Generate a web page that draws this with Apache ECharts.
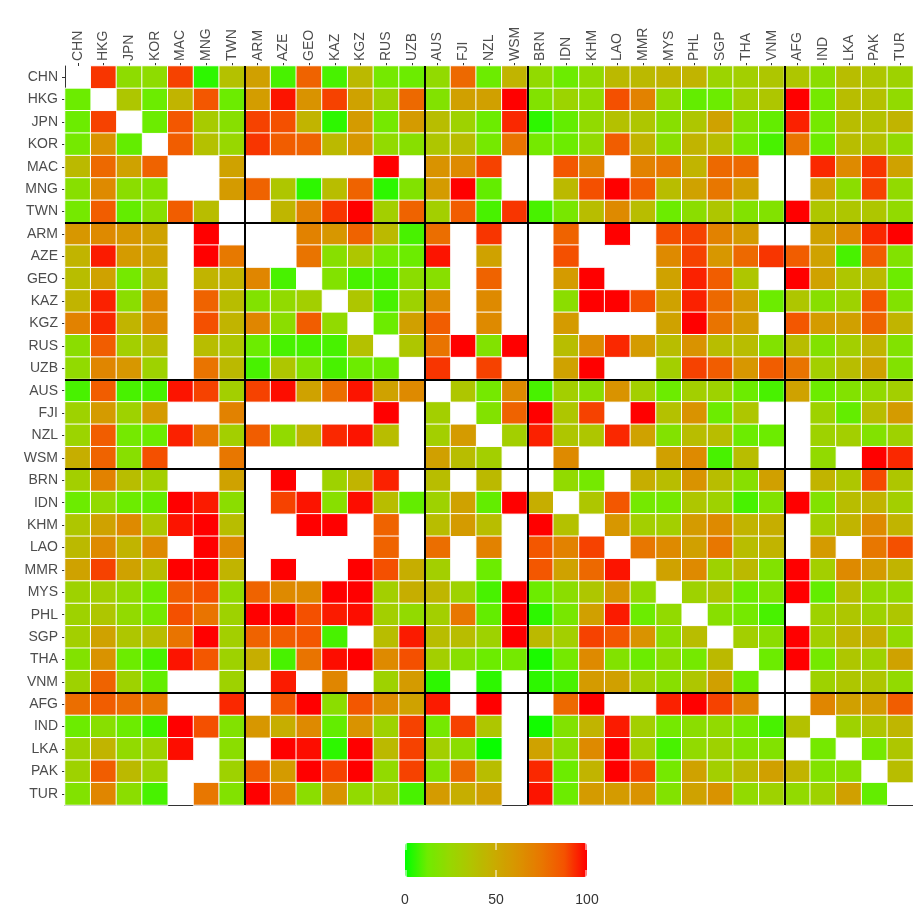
<!DOCTYPE html>
<html>
<head>
<meta charset="utf-8">
<script src="https://cdn.jsdelivr.net/npm/echarts@6/dist/echarts.min.js"></script>
<style>
html, body { margin: 0; padding: 0; background: #fff; }
#chart { width: 913px; height: 911px; }
</style>
</head>
<body>
<div id="chart"></div>
<script>
// country groups, black lines are drawn between them
const groups = [
    ['CHN', 'HKG', 'JPN', 'KOR', 'MAC', 'MNG', 'TWN'],
    ['ARM', 'AZE', 'GEO', 'KAZ', 'KGZ', 'RUS', 'UZB'],
    ['AUS', 'FJI', 'NZL', 'WSM'],
    ['BRN', 'IDN', 'KHM', 'LAO', 'MMR', 'MYS', 'PHL', 'SGP', 'THA', 'VNM'],
    ['AFG', 'IND', 'LKA', 'PAK', 'TUR']
];
const countries = groups.flat();
const legendTicks = [0, 50, 100];
const palette = ['#00FF00', '#70EB00', '#98D700', '#B3C200', '#CAAA00', '#DA9200', '#E87700', '#F45300', '#FF0000'];

const _ = null;
// rows = reporter (y, top to bottom), columns = partner (x, left to right)
const matrix = [
    [_, 92, 22, 22, 90, 5, 38, 55, 8, 82, 8, 42, 14, 12, 23, 80, 12, 45, 23, 12, 23, 42, 42, 45, 45, 27, 30, 35, 35, 21, 40, 35, 28],
    [12, _, 35, 12, 45, 86, 12, 57, 97, 62, 90, 54, 28, 80, 18, 55, 55, 100, 18, 27, 23, 88, 70, 23, 11, 12, 30, 35, 100, 14, 40, 38, 23],
    [12, 90, _, 12, 86, 32, 20, 90, 88, 45, 5, 58, 14, 58, 40, 28, 12, 94, 5, 11, 23, 38, 35, 20, 35, 54, 18, 11, 95, 14, 40, 38, 45],
    [14, 62, 11, _, 84, 38, 25, 92, 84, 82, 42, 60, 23, 20, 35, 40, 14, 76, 14, 12, 23, 84, 45, 20, 45, 40, 14, 8, 76, 12, 40, 38, 23],
    [42, 80, 54, 82, _, _, 54, _, _, _, _, _, 100, _, 62, 66, 90, _, _, 86, 70, _, 70, 75, 45, 80, 80, _, _, 94, 66, 92, 54],
    [20, 66, 21, 18, _, _, 58, 82, 35, 5, 40, 82, 5, 18, 58, 100, 11, _, _, 42, 88, 100, 84, 40, 54, 75, 55, _, _, 54, 21, 90, 23],
    [14, 84, 11, 20, 84, 40, _, _, 44, 70, 92, 100, 30, 82, 30, 84, 8, 92, 8, 15, 40, 66, 40, 12, 21, 35, 18, 18, 100, 35, 35, 35, 23],
    [60, 66, 60, 54, _, 100, _, _, _, 70, 60, 82, 42, 8, 78, _, 92, _, _, 82, _, 100, _, 88, 90, 70, 58, _, _, 54, 66, 94, 100],
    [45, 96, 58, 54, _, 100, 74, _, _, 76, 20, 35, 14, 12, 97, _, 54, _, _, 88, _, _, _, 66, 90, 60, 80, 92, 84, 54, 8, 84, 18],
    [40, 54, 14, 40, _, 45, 45, 68, 8, _, 18, 8, 8, 21, 20, _, 82, _, _, 58, 100, _, _, 54, 95, 84, 35, _, 100, 54, 35, 42, 12],
    [45, 95, 21, 66, _, 82, 40, 18, 23, 30, _, 35, 8, 28, 66, _, 66, _, _, 21, 100, 100, 88, 54, 95, 80, 58, 12, 35, 20, 28, 86, 18],
    [70, 94, 45, 66, _, 88, 45, 68, 21, 84, 23, _, 12, 55, 84, _, 66, _, _, 58, _, _, _, 54, 100, 76, 58, _, 86, 58, 55, 82, 45],
    [21, 84, 30, 40, _, 40, 35, 12, 8, 8, 8, 38, _, 35, 76, 100, 18, 100, _, 40, 66, 94, 58, 40, 62, 40, 40, 18, 40, 18, 30, 45, 18],
    [23, 68, 60, 28, _, 76, 42, 8, 35, 18, 8, 12, 12, _, 92, _, 90, _, _, 54, 100, _, _, 30, 90, 84, 60, 84, 76, 30, 40, 54, 18],
    [8, 84, 8, 8, 97, 90, 30, 90, 98, 54, 78, 97, 54, 66, _, 35, 14, 66, 8, 30, 21, 62, 30, 12, 30, 28, 12, 8, 54, 12, 18, 23, 30],
    [28, 58, 28, 58, _, _, 70, _, _, _, _, _, 100, _, 30, _, 18, 82, 100, 35, 90, _, 100, 38, 62, 12, 35, _, _, 28, 11, 40, 58],
    [27, 84, 14, 12, 95, 75, 30, 84, 23, 45, 94, 97, 40, _, 30, 58, _, 30, 95, 35, 35, 94, 54, 18, 40, 40, 12, 12, _, 28, 30, 18, 28],
    [48, 82, 20, 88, _, _, 75, _, _, _, _, _, _, _, 55, 40, 30, _, _, 66, _, _, _, 55, 66, 8, 40, _, _, 23, _, 100, 94],
    [30, 70, 40, 30, _, _, 54, _, 100, _, 28, 45, 95, _, 40, _, 42, _, _, 23, 14, _, 48, 40, 62, 40, 20, 55, _, 45, 35, 89, 35],
    [12, 23, 12, 11, 100, 96, 21, _, 90, 97, 20, 98, 40, 11, 28, 54, 11, 100, 48, _, 35, 86, 14, 14, 35, 28, 8, 18, 100, 18, 40, 45, 30],
    [35, 54, 66, 35, 97, 100, 40, _, _, 100, 100, _, 82, _, 40, 58, 40, _, 100, 38, _, 60, 30, 30, 58, 66, 45, 48, _, 30, 45, 66, 45],
    [42, 66, 45, 66, _, 100, 66, _, _, _, _, _, 82, _, 78, _, 70, _, 86, 70, 90, _, 75, 66, 55, 75, 40, 45, _, 58, _, 75, 88],
    [54, 90, 54, 40, 100, 100, 45, _, 100, _, _, 100, 88, 48, 30, _, 12, _, 86, 54, 80, 97, _, 54, 66, 28, 42, 18, 100, 30, 66, 58, 45],
    [28, 30, 23, 12, 84, 88, 23, 82, 66, 66, 100, 100, 30, 48, 44, 28, 8, 100, 12, 21, 35, 62, 23, _, 28, 35, 12, 18, 100, 11, 40, 23, 23],
    [28, 35, 23, 14, 88, 76, 28, 100, 100, 88, 96, 98, 30, 23, 30, 75, 11, 100, 5, 15, 55, 96, 12, 23, _, 20, 14, 8, _, 28, 35, 28, 35],
    [30, 54, 35, 40, 76, 100, 30, 82, 84, 86, 8, _, 40, 96, 40, 40, 28, 100, 42, 30, 90, 86, 62, 21, 40, _, 30, 21, 100, 30, 45, 48, 23],
    [18, 62, 12, 8, 97, 86, 28, 48, 8, 76, 98, 100, 66, 88, 30, 20, 12, 14, 3, 14, 66, 18, 12, 21, 14, 42, _, 12, 100, 14, 35, 28, 54],
    [28, 82, 28, 11, _, _, 28, _, 96, _, 68, _, 28, 58, 5, _, 5, _, 5, 8, 58, 55, 30, 20, 35, 55, 12, _, _, 28, 35, 35, 23],
    [78, 84, 78, 75, _, _, 94, _, 86, 100, 21, 86, 66, 54, 96, _, 100, _, _, 80, 100, _, _, 95, 100, 90, 68, _, _, 68, 55, 58, 84],
    [12, 20, 12, 7, 100, 88, 18, 60, 48, 66, 11, 62, 28, 90, 14, 90, 35, _, 2, 18, 45, 96, 30, 14, 21, 23, 14, 8, 38, _, 28, 35, 44],
    [28, 45, 23, 28, 98, _, 21, _, 100, 98, 5, 100, 42, 90, 30, 21, 1, _, 54, 21, 66, 100, 30, 8, 23, 28, 18, 18, _, 14, _, 14, 35],
    [28, 84, 42, 28, _, _, 28, 84, 58, 100, 90, 100, 23, 90, 18, 80, 40, _, 94, 12, 45, 100, 90, 14, 54, 30, 42, 55, 45, 18, 20, _, 40],
    [18, 68, 21, 8, _, 75, 18, 100, 75, 21, 62, 23, 30, 8, 58, 48, 55, _, 97, 12, 58, 58, 62, 18, 54, 62, 23, 28, 23, 28, 55, 11, _]
];

const heatData = [];
matrix.forEach((row, y) => {
    row.forEach((v, x) => {
        if (v !== null) heatData.push([x, y, v]);
    });
});

// positions of the group separators on the 0..n value scale
const breaks = [];
let acc = 0;
groups.slice(0, -1).forEach(g => { acc += g.length; breaks.push(acc); });

const font = 'Liberation Sans, Arial, sans-serif';
const legendBox = { left: 405, top: 843, length: 182, thick: 34 };

// legend labels under the colour bar + small white ticks inside it
const legendGraphics = [];
legendTicks.forEach(t => {
    const x = legendBox.left + legendBox.length * t / 100;
    legendGraphics.push({
        type: 'text',
        x: x,
        y: legendBox.top + legendBox.thick + 23,
        z: 100,
        style: { text: String(t), align: 'center', textAlign: 'center', verticalAlign: 'middle', textVerticalAlign: 'middle', fontSize: 14, fill: '#333', fontFamily: font }
    });
    const tx = Math.min(Math.max(x, legendBox.left + 1), legendBox.left + legendBox.length - 1);
    [[legendBox.top, legendBox.top + 7], [legendBox.top + legendBox.thick - 7, legendBox.top + legendBox.thick]].forEach(seg => {
        legendGraphics.push({
            type: 'line',
            z: 100,
            shape: { x1: tx, y1: seg[0], x2: tx, y2: seg[1] },
            style: { stroke: '#fff', lineWidth: 1 }
        });
    });
});

const chart = echarts.init(document.getElementById('chart'));
chart.setOption({
    animation: false,
    grid: { left: 65, top: 66, width: 852, height: 739 },
    xAxis: [
        {
            type: 'category',
            data: countries,
            position: 'top',
            axisLine: { show: false },
            axisTick: { show: true, alignWithLabel: true, length: 3, lineStyle: { color: '#333' } },
            axisLabel: { rotate: 90, fontSize: 14, color: '#4d4d4d', margin: 5, fontFamily: font },
            splitLine: { show: false }
        },
        {
            type: 'value',
            min: 0,
            max: countries.length,
            position: 'bottom',
            axisLine: { show: true, onZero: false, lineStyle: { color: '#333', width: 1 } },
            axisTick: { show: false },
            axisLabel: { show: false },
            splitLine: { show: false }
        }
    ],
    yAxis: [
        {
            type: 'category',
            data: countries,
            inverse: true,
            axisLine: { show: true, lineStyle: { color: '#333', width: 1 } },
            axisTick: { show: true, alignWithLabel: true, length: 3, lineStyle: { color: '#333' } },
            axisLabel: { fontSize: 14, color: '#4d4d4d', margin: 7, fontFamily: font },
            splitLine: { show: false }
        },
        {
            type: 'value',
            min: 0,
            max: countries.length,
            inverse: true,
            show: false
        }
    ],
    visualMap: {
        type: 'continuous',
        min: 0,
        max: 100,
        orient: 'horizontal',
        left: legendBox.left,
        top: legendBox.top,
        itemWidth: legendBox.thick,
        itemHeight: legendBox.length,
        padding: 0,
        calculable: false,
        hoverLink: false,
        seriesIndex: 0,
        inRange: { color: palette }
    },
    series: [
        {
            type: 'heatmap',
            xAxisIndex: 0,
            yAxisIndex: 0,
            data: heatData,
            itemStyle: { borderColor: '#fff', borderWidth: 1 },
            emphasis: { disabled: true }
        },
        {
            type: 'scatter',
            xAxisIndex: 1,
            yAxisIndex: 1,
            data: [[0, 0]],
            symbolSize: 0,
            silent: true,
            markLine: {
                silent: true,
                symbol: 'none',
                label: { show: false },
                lineStyle: { color: '#000', width: 2, type: 'solid' },
                data: breaks.map(b => ({ xAxis: b })).concat(breaks.map(b => ({ yAxis: b })))
            }
        }
    ],
    graphic: legendGraphics
});
</script>
</body>
</html>
